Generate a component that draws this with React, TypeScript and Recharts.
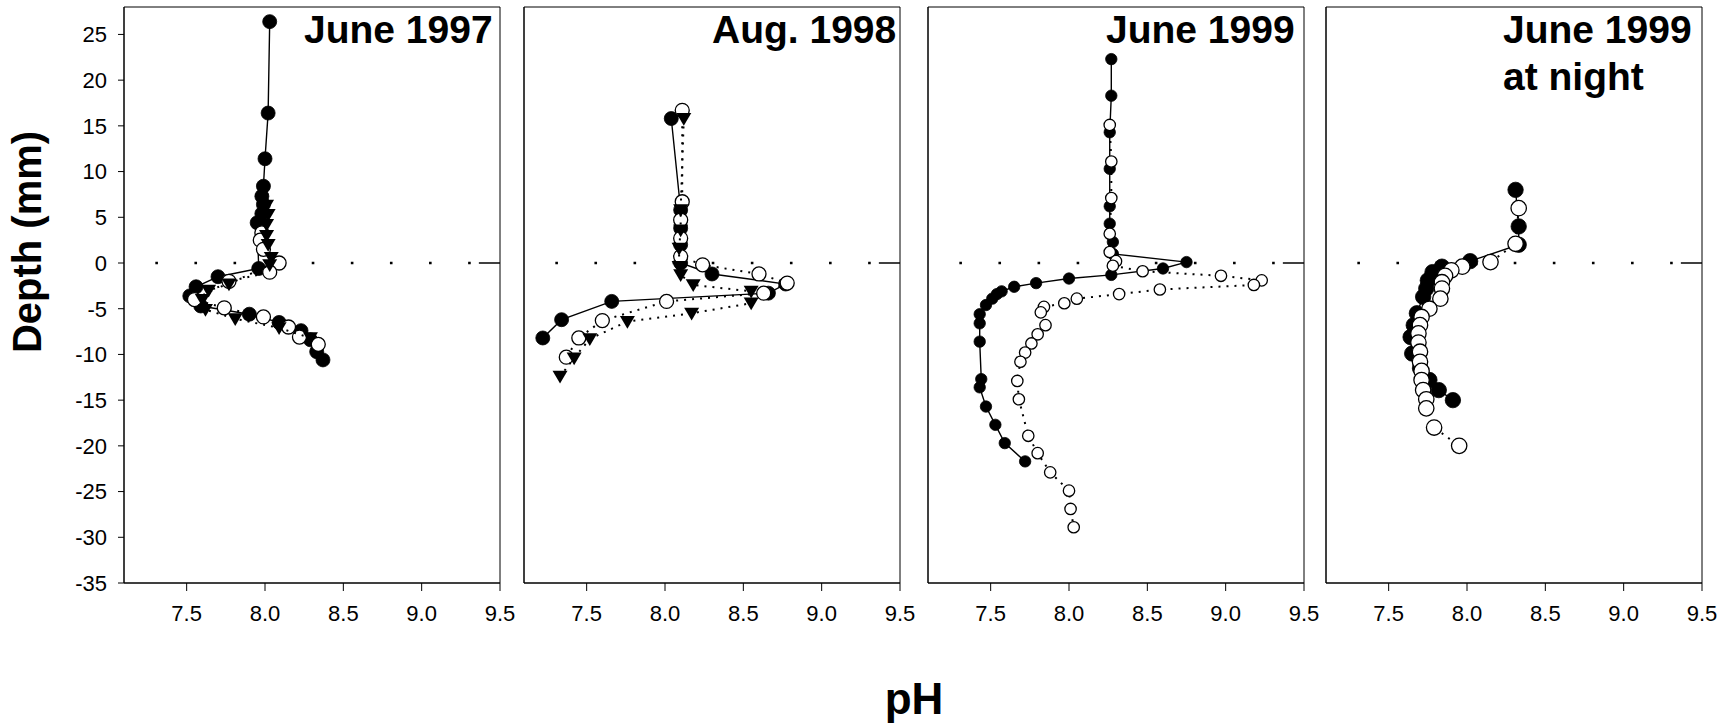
import React from "react";
import { ScatterChart, Scatter, XAxis, YAxis, ReferenceLine, ReferenceArea } from "recharts";

type Pt = [number, number]; // [pH, depth mm]

const phTicks = [7.5, 8.0, 8.5, 9.0, 9.5];
const depthTicks = [-35, -30, -25, -20, -15, -10, -5, 0, 5, 10, 15, 20, 25];

// June 1997
const jun97Filled: Pt[] = [
  [8.03, 26.4], [8.02, 16.4], [8.0, 11.4], [7.99, 8.4], [7.98, 7.3], [7.99, 6.4], [7.98, 5.4],
  [7.95, 4.4], [7.96, -0.6], [7.7, -1.5], [7.56, -2.6], [7.52, -3.6], [7.59, -4.7], [7.9, -5.6],
  [8.09, -6.5], [8.23, -7.4], [8.29, -8.4], [8.33, -9.7], [8.37, -10.6],
];
const jun97Open: Pt[] = [
  [7.98, 3.3], [7.97, 2.5], [7.99, 1.5], [8.09, 0.0], [8.03, -1.0], [7.77, -2.0], [7.55, -4.0],
  [7.74, -4.9], [7.99, -5.9], [8.15, -7.0], [8.22, -8.1], [8.34, -8.9],
];
const jun97Tri: Pt[] = [
  [8.01, 6.3], [8.02, 5.3], [8.01, 4.2], [8.01, 3.0], [8.02, 2.0], [8.04, 0.6], [8.03, -0.2],
  [7.77, -2.3], [7.64, -3.0], [7.6, -4.0], [7.62, -5.1], [7.81, -6.1], [8.09, -7.1], [8.29, -8.2],
];

// Aug. 1998
const aug98Filled: Pt[] = [
  [8.04, 15.8], [8.1, 5.8], [8.1, 3.8], [8.1, 2.0], [8.1, 0.0], [8.3, -1.2], [8.77, -2.3],
  [8.66, -3.3], [7.66, -4.2], [7.34, -6.2], [7.22, -8.2],
];
const aug98Open: Pt[] = [
  [8.11, 16.7], [8.11, 6.7], [8.1, 4.7], [8.1, 2.7], [8.1, 0.7], [8.24, -0.2], [8.6, -1.2],
  [8.78, -2.2], [8.63, -3.3], [8.01, -4.2], [7.6, -6.3], [7.45, -8.2], [7.37, -10.3],
];
const aug98Tri: Pt[] = [
  [8.12, 15.8], [8.1, 5.8], [8.1, 3.6], [8.09, 1.6], [8.09, -0.4], [8.1, -1.3], [8.18, -2.4],
  [8.55, -3.1], [8.55, -4.4], [8.17, -5.5], [7.76, -6.4], [7.52, -8.3], [7.42, -10.4], [7.33, -12.4],
];

// June 1999
const jun99Filled: Pt[] = [
  [8.27, 22.3], [8.27, 18.3], [8.26, 14.3], [8.26, 10.3], [8.26, 6.2], [8.26, 4.3], [8.28, 2.3],
  [8.28, 1.0], [8.75, 0.1], [8.6, -0.6], [8.27, -1.3], [8.0, -1.7], [7.79, -2.2], [7.65, -2.6],
  [7.57, -3.1], [7.54, -3.4], [7.51, -3.9], [7.47, -4.6], [7.43, -5.6], [7.43, -6.6], [7.43, -8.6],
  [7.44, -12.7], [7.43, -13.6], [7.47, -15.7], [7.53, -17.7], [7.59, -19.7], [7.72, -21.7],
];
const jun99Open: Pt[] = [
  [8.26, 15.1], [8.27, 11.1], [8.27, 7.1], [8.26, 3.2], [8.26, 1.2], [8.3, 0.2], [8.28, -0.3],
  [8.47, -0.9], [8.97, -1.4], [9.23, -1.9], [9.18, -2.4], [8.58, -2.9], [8.32, -3.4], [8.05, -3.9],
  [7.97, -4.4], [7.84, -4.8], [7.82, -5.4], [7.85, -6.8], [7.8, -7.8], [7.76, -8.8], [7.72, -9.8],
  [7.69, -10.8], [7.67, -12.9], [7.68, -14.9], [7.74, -18.9], [7.8, -20.8], [7.88, -22.9],
  [8.0, -24.9], [8.01, -26.9], [8.03, -28.9],
];

// June 1999 at night
const nightFilled: Pt[] = [
  [8.31, 8.0], [8.33, 4.0], [8.33, 2.0], [8.02, 0.2], [7.84, -0.4], [7.78, -1.0], [7.75, -1.9],
  [7.74, -2.8], [7.72, -3.7], [7.68, -5.5], [7.66, -6.8], [7.64, -8.1], [7.65, -9.9], [7.7, -11.5],
  [7.76, -12.8], [7.82, -13.9], [7.91, -15.0],
];
const nightOpen: Pt[] = [
  [8.33, 6.0], [8.31, 2.1], [8.15, 0.1], [7.97, -0.4], [7.9, -0.8], [7.86, -1.4], [7.84, -2.1],
  [7.84, -2.8], [7.83, -3.9], [7.76, -5.0], [7.71, -5.9], [7.7, -6.8], [7.69, -7.7], [7.69, -8.7],
  [7.7, -9.7], [7.7, -10.8], [7.71, -11.8], [7.71, -12.8], [7.72, -13.9], [7.74, -14.9],
  [7.74, -15.9], [7.79, -18.0], [7.95, -20.0],
];

const FONT = '"Liberation Sans", Arial, Helvetica, sans-serif';
const PLOT_W = 376;
const TICK_FONT = 22;

const toRows = (pts: Pt[]) => pts.map(([ph, depth]) => ({ ph, depth }));

const filledDot = (r: number) => (p: any) => (
  <circle cx={p.cx} cy={p.cy} r={r} fill="#000" stroke="#000" strokeWidth={0.8} />
);
const openDot = (r: number) => (p: any) => (
  <circle cx={p.cx} cy={p.cy} r={r} fill="#fff" stroke="#000" strokeWidth={1.3} />
);
const downTri = (s: number) => (p: any) => (
  <polygon
    points={`${p.cx - s},${p.cy - s * 0.75} ${p.cx + s},${p.cy - s * 0.75} ${p.cx},${p.cy + s * 0.95}`}
    fill="#000"
  />
);

const solid = { stroke: "#000", strokeWidth: 1.4 };
const dotted = { stroke: "#000", strokeWidth: 2, strokeDasharray: "2 6" };

type Series = { pts: Pt[]; shape: (p: any) => React.ReactElement; line: any };

const panels: { left: number; title: string[]; titleLeft: number; series: Series[] }[] = [
  {
    left: 124,
    title: ["June 1997"],
    titleLeft: 304,
    series: [
      { pts: jun97Filled, shape: filledDot(7), line: solid },
      { pts: jun97Open, shape: openDot(7), line: dotted },
      { pts: jun97Tri, shape: downTri(7.5), line: dotted },
    ],
  },
  {
    left: 524,
    title: ["Aug. 1998"],
    titleLeft: 712,
    series: [
      { pts: aug98Filled, shape: filledDot(7), line: solid },
      { pts: aug98Open, shape: openDot(7), line: dotted },
      { pts: aug98Tri, shape: downTri(7.5), line: dotted },
    ],
  },
  {
    left: 928,
    title: ["June 1999"],
    titleLeft: 1106,
    series: [
      { pts: jun99Filled, shape: filledDot(5.7), line: solid },
      { pts: jun99Open, shape: openDot(5.7), line: dotted },
    ],
  },
  {
    left: 1326,
    title: ["June 1999", "at night"],
    titleLeft: 1503,
    series: [
      { pts: nightFilled, shape: filledDot(7.7), line: solid },
      { pts: nightOpen, shape: openDot(7.7), line: dotted },
    ],
  },
];

function Panel({ index }: { index: number }) {
  const cfg = panels[index];
  const first = index === 0;
  const yw = first ? 64 : 10;
  const rightPad = 20;
  return (
    <div style={{ position: "absolute", left: cfg.left - yw, top: 0 }}>
      <ScatterChart
        width={yw + PLOT_W + rightPad}
        height={640}
        margin={{ top: 7, right: rightPad, bottom: 17, left: 0 }}
      >
        <XAxis
          type="number"
          dataKey="ph"
          domain={[7.1, 9.5]}
          ticks={phTicks}
          allowDataOverflow
          tickFormatter={(v: number) => v.toFixed(1)}
          tick={{ fontSize: TICK_FONT, fill: "#000" }}
          tickSize={8}
          tickMargin={14}
          height={40}
          axisLine={{ stroke: "#000" }}
          tickLine={{ stroke: "#000" }}
        />
        <YAxis
          type="number"
          dataKey="depth"
          domain={[-35, 28]}
          ticks={depthTicks}
          allowDataOverflow
          width={yw}
          tick={first ? { fontSize: TICK_FONT, fill: "#000" } : false}
          tickSize={first ? 6 : 4}
          tickMargin={11}
          axisLine={{ stroke: "#000" }}
          tickLine={{ stroke: "#000" }}
        />
        <ReferenceArea x1={7.1} x2={9.5} y1={-35} y2={28} fill="none" stroke="#000" strokeWidth={1} />
        <ReferenceLine
          segment={[{ x: 7.3, y: 0 }, { x: 9.32, y: 0 }]}
          stroke="#000"
          strokeWidth={2.5}
          strokeDasharray="2.6 36.5"
        />
        <ReferenceLine segment={[{ x: 9.365, y: 0 }, { x: 9.5, y: 0 }]} stroke="#000" strokeWidth={1.5} />
        {cfg.series.map((s, i) => (
          <Scatter
            key={i}
            data={toRows(s.pts)}
            shape={s.shape}
            line={s.line}
            lineType="joint"
            isAnimationActive={false}
          />
        ))}
      </ScatterChart>
      <div
        style={{
          position: "absolute",
          left: cfg.titleLeft - (cfg.left - yw),
          top: cfg.title.length > 1 ? 6 : 10,
          fontFamily: FONT,
          fontWeight: "bold",
          fontSize: 39,
          lineHeight: cfg.title.length > 1 ? "47px" : "39px",
          whiteSpace: "nowrap",
          color: "#000",
        }}
      >
        {cfg.title.map((t, i) => (
          <div key={i}>{t}</div>
        ))}
      </div>
    </div>
  );
}

export default function App() {
  return (
    <div
      style={{
        position: "absolute",
        left: 0,
        top: 0,
        width: 1734,
        height: 727,
        background: "#fff",
        fontFamily: FONT,
        overflow: "hidden",
      }}
    >
      {panels.map((_, i) => (
        <Panel key={i} index={i} />
      ))}
      <div
        style={{
          position: "absolute",
          left: 27,
          top: 242,
          transform: "translate(-50%, -50%) rotate(-90deg)",
          fontSize: 40,
          fontWeight: "bold",
          whiteSpace: "nowrap",
          lineHeight: "40px",
        }}
      >
        Depth (mm)
      </div>
      <div
        style={{
          position: "absolute",
          left: 914,
          top: 677,
          transform: "translateX(-50%)",
          fontSize: 44,
          fontWeight: "bold",
          lineHeight: "44px",
          whiteSpace: "nowrap",
        }}
      >
        pH
      </div>
    </div>
  );
}
